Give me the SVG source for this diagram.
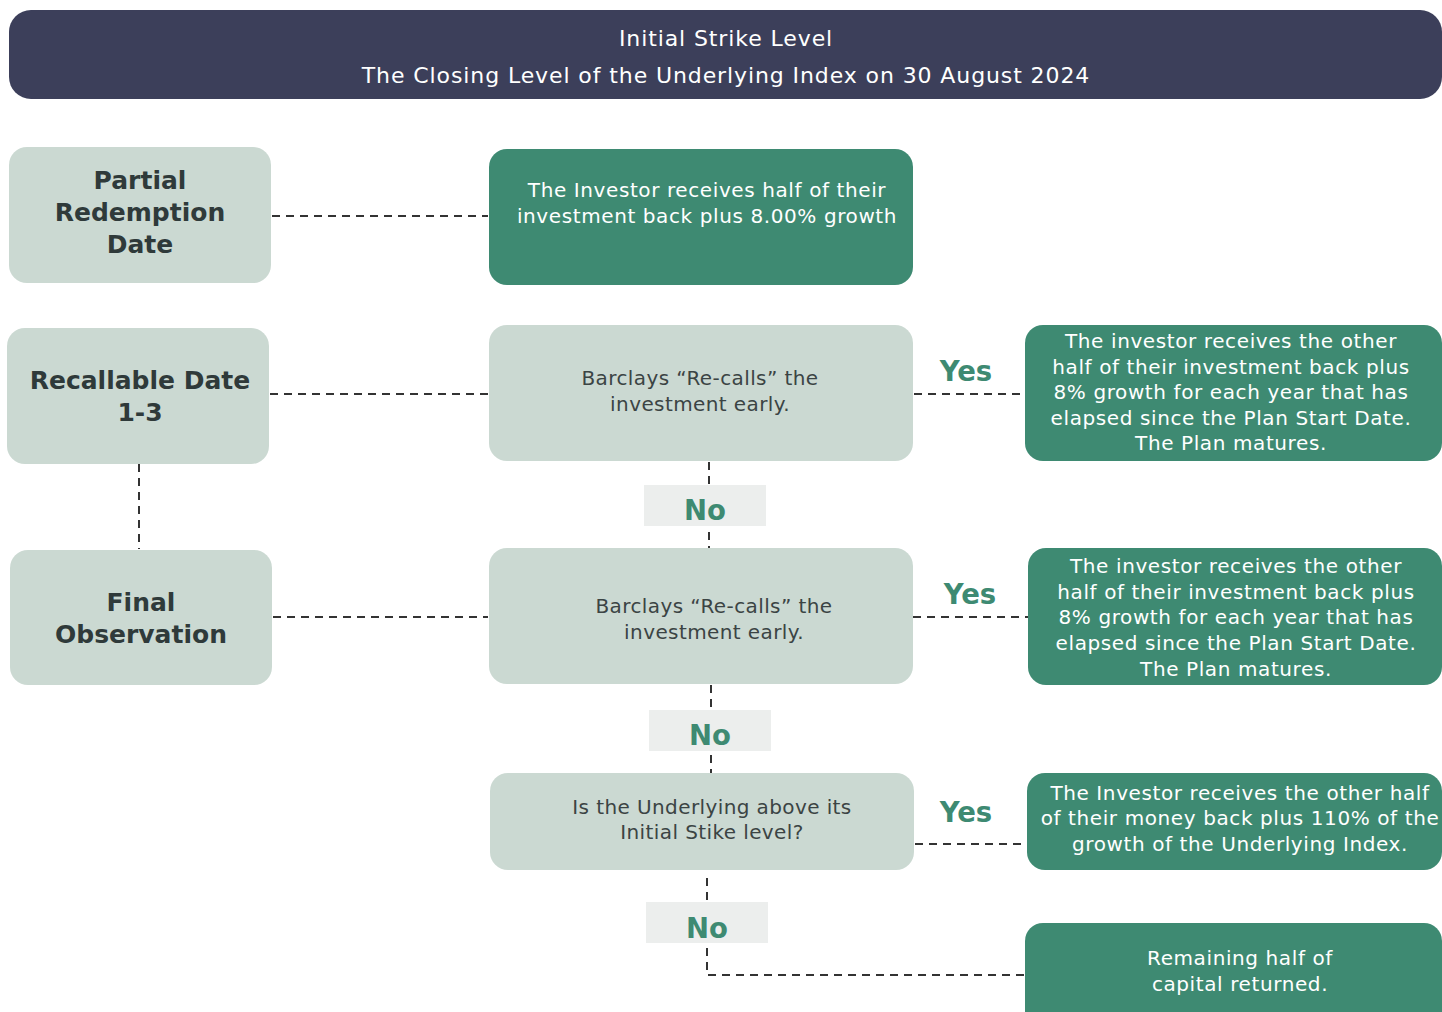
<svg xmlns="http://www.w3.org/2000/svg" width="1442" height="1012" viewBox="0 0 1442 1012">
<style>
.hdr{fill:#3c3f5a}
.gray{fill:#cbd9d2}
.green{fill:#3e8a72}
.nobg{fill:#eceeed}
.t{font-family:"DejaVu Sans","Open Sans",sans-serif;text-anchor:middle;dominant-baseline:central}
.ht{fill:#ffffff;font-size:22px;letter-spacing:0.9px}
.lt{fill:#2f3a3a;font-size:25px;font-weight:bold}
.mt{fill:#3b4444;font-size:20px;letter-spacing:0.4px}
.wt{fill:#ffffff;font-size:20px;letter-spacing:0.6px}
.yn{fill:#3e8a72;font-size:27.5px;font-weight:bold}
.dash{stroke:#333333;stroke-width:2;stroke-dasharray:8 6;fill:none}
</style>
<rect width="1442" height="1012" fill="#ffffff"/>
<g id="connectors">
<line class="dash" x1="272" y1="216" x2="488" y2="216"/>
<line class="dash" x1="270" y1="394" x2="488" y2="394"/>
<line class="dash" x1="914" y1="394" x2="1024" y2="394"/>
<line class="dash" x1="139" y1="464" x2="139" y2="549"/>
<line class="dash" x1="273" y1="617" x2="488" y2="617"/>
<line class="dash" x1="913" y1="617" x2="1028" y2="617"/>
<line class="dash" x1="709" y1="462" x2="709" y2="548"/>
<line class="dash" x1="711" y1="685" x2="711" y2="773"/>
<line class="dash" x1="915" y1="844" x2="1027" y2="844"/>
<polyline class="dash" points="707,878 707,975 1025,975"/>
</g>
<g id="header">
<rect class="hdr" x="9" y="10" width="1433" height="89" rx="22"/>
<text class="t ht" x="726" y="38">Initial Strike Level</text>
<text class="t ht" x="726" y="75">The Closing Level of the Underlying Index on 30 August 2024</text>
</g>
<g id="partial-redemption">
<rect class="gray" x="9" y="147" width="262" height="136" rx="18"/>
<text class="t lt" x="140" y="180">Partial</text>
<text class="t lt" x="140" y="212">Redemption</text>
<text class="t lt" x="140" y="244">Date</text>
</g>
<g id="recallable-date">
<rect class="gray" x="7" y="328" width="262" height="136" rx="18"/>
<text class="t lt" x="140" y="380">Recallable Date</text>
<text class="t lt" x="140" y="412">1-3</text>
</g>
<g id="final-observation">
<rect class="gray" x="10" y="550" width="262" height="135" rx="18"/>
<text class="t lt" x="141" y="602">Final</text>
<text class="t lt" x="141" y="634">Observation</text>
</g>
<g id="half-back">
<rect class="green" x="489" y="149" width="424" height="136" rx="18"/>
<text class="t wt" x="707" y="190">The Investor receives half of their</text>
<text class="t wt" x="707" y="216">investment back plus 8.00% growth</text>
</g>
<g id="recall-1">
<rect class="gray" x="489" y="325" width="424" height="136" rx="18"/>
<text class="t mt" x="700" y="378">Barclays “Re-calls” the</text>
<text class="t mt" x="700" y="404">investment early.</text>
</g>
<g id="recall-2">
<rect class="gray" x="489" y="548" width="424" height="136" rx="18"/>
<text class="t mt" x="714" y="606">Barclays “Re-calls” the</text>
<text class="t mt" x="714" y="632">investment early.</text>
</g>
<g id="underlying-question">
<rect class="gray" x="490" y="773" width="424" height="97" rx="18"/>
<text class="t mt" x="712" y="807">Is the Underlying above its</text>
<text class="t mt" x="712" y="832">Initial Stike level?</text>
</g>
<g id="result-1">
<rect class="green" x="1025" y="325" width="417" height="136" rx="18"/>
<text class="t wt" x="1231" y="341">The investor receives the other</text>
<text class="t wt" x="1231" y="367">half of their investment back plus</text>
<text class="t wt" x="1231" y="392">8% growth for each year that has</text>
<text class="t wt" x="1231" y="418">elapsed since the Plan Start Date.</text>
<text class="t wt" x="1231" y="443">The Plan matures.</text>
</g>
<g id="result-2">
<rect class="green" x="1028" y="548" width="414" height="137" rx="18"/>
<text class="t wt" x="1236" y="566">The investor receives the other</text>
<text class="t wt" x="1236" y="592">half of their investment back plus</text>
<text class="t wt" x="1236" y="617">8% growth for each year that has</text>
<text class="t wt" x="1236" y="643">elapsed since the Plan Start Date.</text>
<text class="t wt" x="1236" y="669">The Plan matures.</text>
</g>
<g id="result-3">
<rect class="green" x="1027" y="773" width="415" height="97" rx="18"/>
<text class="t wt" x="1240" y="793">The Investor receives the other half</text>
<text class="t wt" x="1240" y="818">of their money back plus 110% of the</text>
<text class="t wt" x="1240" y="844">growth of the Underlying Index.</text>
</g>
<g id="result-4">
<rect class="green" x="1025" y="923" width="417" height="120" rx="18"/>
<text class="t wt" x="1240" y="958">Remaining half of</text>
<text class="t wt" x="1240" y="984">capital returned.</text>
</g>
<g id="label-yes-1"><text class="t yn" x="966" y="371">Yes</text></g>
<g id="label-yes-2"><text class="t yn" x="970" y="594">Yes</text></g>
<g id="label-yes-3"><text class="t yn" x="966" y="812">Yes</text></g>
<g id="label-no-1">
<rect class="nobg" x="644" y="485" width="122" height="41"/>
<text class="t yn" x="705" y="510">No</text>
</g>
<g id="label-no-2">
<rect class="nobg" x="649" y="710" width="122" height="41"/>
<text class="t yn" x="710" y="735">No</text>
</g>
<g id="label-no-3">
<rect class="nobg" x="646" y="902" width="122" height="41"/>
<text class="t yn" x="707" y="928">No</text>
</g>
</svg>
